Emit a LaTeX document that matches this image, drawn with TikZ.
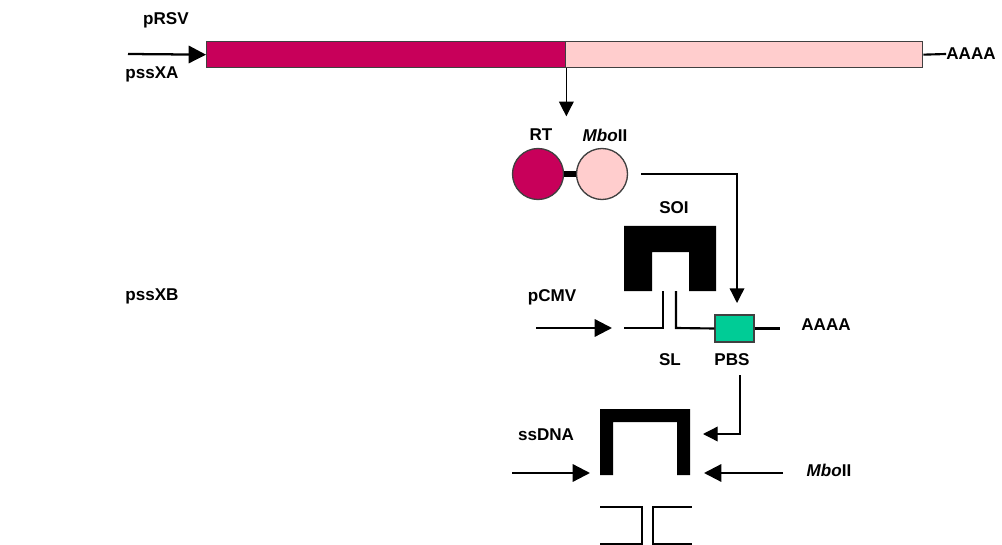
\documentclass[tikz,border=0pt]{standalone}
\usepackage{fontspec}
\setmainfont{Liberation Sans}
\usetikzlibrary{arrows.meta}
\definecolor{rtmag}{RGB}{200,0,90}
\definecolor{mbopink}{RGB}{255,205,205}
\definecolor{pbsgreen}{RGB}{0,204,150}

\begin{document}
\begin{tikzpicture}[x=0.75pt, y=-0.75pt, font=\bfseries\fontsize{12.8}{15}\selectfont,
  lbl/.style={inner sep=0pt},
  bar/.style={draw=black!75, line width=1pt, anchor=north west, minimum height=26*0.75pt, inner sep=0pt},
  ball/.style={circle, draw=black!75, line width=1pt, minimum size=51*0.75pt, inner sep=0pt},
  bigarr/.style={line width=1.7pt, -{Triangle[length=13pt,width=13pt]}},
  thinarr/.style={line width=1pt, -{Triangle[length=11pt,width=11pt]}},
  strand/.style={line width=1.6pt}]
\useasboundingbox (0,0) rectangle (1002,545);
% ---------- pssXA ----------
\node[lbl] (rsv) at (166,20) {pRSV};
\node[lbl] (xa) at (152,74) {pssXA};
\node[bar, fill=rtmag, minimum width=359*0.75pt] (rtbar) at (206,41) {};
\node[bar, fill=mbopink, minimum width=357*0.75pt] (mbobar) at (565,41) {};
\coordinate (rsvin) at (128,54);
\draw[bigarr] (rsvin) -- (rtbar.west);
\node[lbl] (polya) at (971,54) {AAAA};
\draw[strand] (mbobar.east) -- (polya.west);
\draw[thinarr] (rtbar.south east) -- ++(0,48) coordinate (tipA);
% fusion protein
\node[lbl] (rtlab) at (541,135) {RT};
\node[lbl] (mbolab) at (605,135) {\textit{Mbo}II};
\node[ball, fill=rtmag] (rt) at (538,174) {};
\node[ball, fill=mbopink] (mbo) at (602,174) {};
\draw[line width=4.5pt] (rt.east) -- (mbo.west);
% ---------- pssXB ----------
\node[lbl] (xb) at (152,296) {pssXB};
\node[lbl] (soi) at (674,208) {SOI};
\fill (624,226) -- (716,226) -- (716,291) -- (689,291) -- (689,252) -- (652,252)
  -- (652,291) -- (624,291) -- cycle;
\node[draw=black!75, line width=1pt, fill=pbsgreen, minimum width=39*0.75pt,
  minimum height=27*0.75pt, inner sep=0pt] (pbs) at (734.5,328.5) {};
\draw[strand] (663,291) -- (663,328) -- (624,328);
\draw[strand] (676,291) -- (676,328) -- (pbs.west);
\draw[strand] (pbs.east) -- (780,328.5);
\node[lbl] (polyb) at (826,325) {AAAA};
\node[lbl] (cmv) at (552,297) {pCMV};
\coordinate (cmvin) at (536,328);
\coordinate (cmvtip) at (612,328);
\draw[bigarr] (cmvin) -- (cmvtip);
\node[lbl] (sl) at (670,360) {SL};
\node[lbl] (pbslab) at (732,360) {PBS};
\coordinate (mbofrom) at (641,174);
\draw[thinarr] (mbofrom) -| (737,303);
% ---------- ssDNA ----------
\node[lbl] (ss) at (546,435) {ssDNA};
\fill (600,409) -- (690,409) -- (690,475) -- (677,475) -- (677,422) -- (613,422)
  -- (613,475) -- (600,475) -- cycle;
\coordinate (pbsout) at (740,375);
\draw[thinarr] (pbsout) |- (703,434);
\coordinate (ssin) at (512,473);
\draw[bigarr] (ssin) -- (590,473);
\node[lbl] (mbor) at (829,470) {\textit{Mbo}II};
\coordinate (mboin) at (783,473);
\draw[bigarr] (mboin) -- (704,473);
% cut stem-loop
\draw[strand] (600,507) -- (642,507) -- (642,546);
\draw[strand] (653,546) -- (653,507) -- (692,507);
\draw[strand] (600,544) -- (642,544);
\draw[strand] (653,544) -- (692,544);
\end{tikzpicture}
\end{document}
